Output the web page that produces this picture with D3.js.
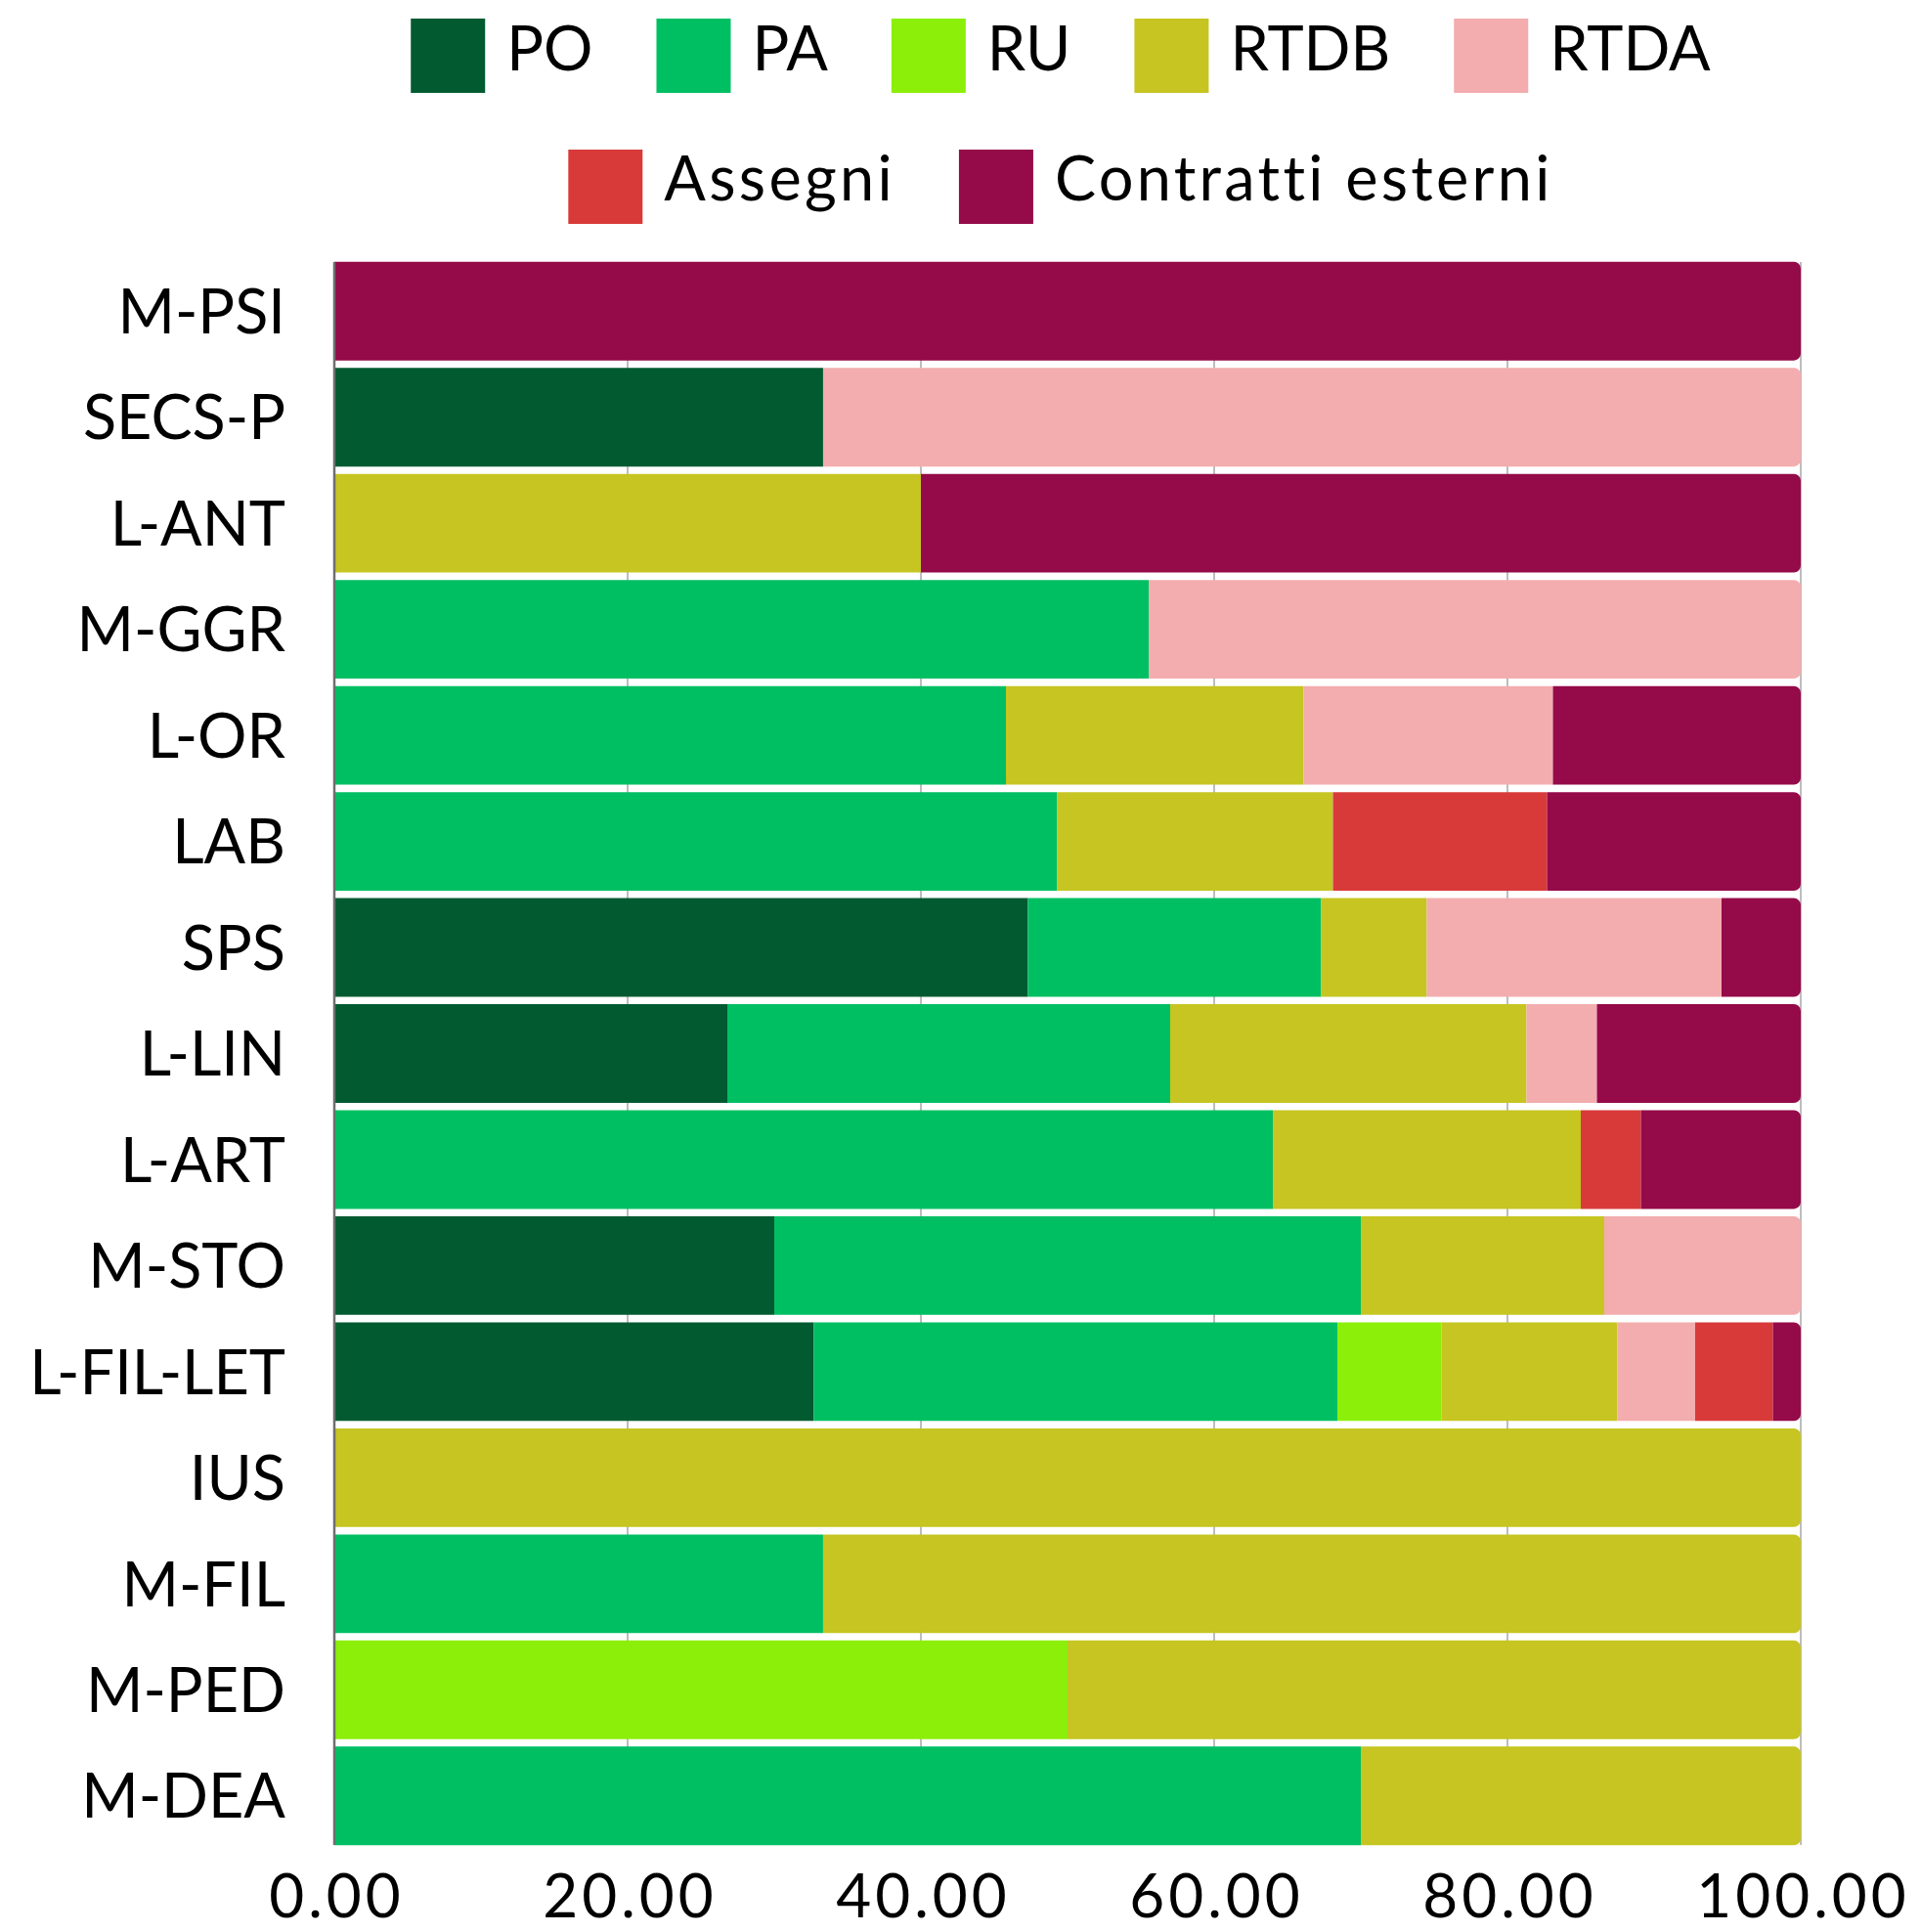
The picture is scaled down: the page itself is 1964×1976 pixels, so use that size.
<!DOCTYPE html>
<html>
<head>
<meta charset="utf-8">
<script src="https://cdn.jsdelivr.net/npm/d3@7"></script>
<style>
  html, body { margin: 0; padding: 0; background: #ffffff; }
  svg { display: block; }
  text { font-family: Lato, "Open Sans", sans-serif; fill: #000; }
</style>
</head>
<body>
<svg id="chart" width="1964" height="1976"></svg>
<script>
// ---- data ----
const categories = ["M-PSI","SECS-P","L-ANT","M-GGR","L-OR","LAB","SPS","L-LIN","L-ART","M-STO","L-FIL-LET","IUS","M-FIL","M-PED","M-DEA"];
const seriesNames = ["PO","PA","RU","RTDB","RTDA","Assegni","Contratti esterni"];
const PO        = [0, 33.33, 0, 0, 0, 0, 47.3, 26.8, 0, 30.0, 32.7, 0, 0, 0, 0];
const PA        = [0, 0, 0, 55.56, 45.8, 49.3, 20.0, 30.2, 64.0, 40.0, 35.7, 0, 33.33, 0, 70.0];
const RU        = [0, 0, 0, 0, 0, 0, 0, 0, 0, 0, 7.1, 0, 0, 50.0, 0];
const RTDB      = [0, 0, 40.0, 0, 20.3, 18.8, 7.2, 24.3, 21.0, 16.6, 12.0, 100, 66.67, 50.0, 30.0];
const RTDA      = [0, 66.67, 0, 44.44, 17.0, 0, 20.1, 4.8, 0, 13.4, 5.3, 0, 0, 0, 0];
const Assegni   = [0, 0, 0, 0, 0, 14.6, 0, 0, 4.1, 0, 5.3, 0, 0, 0, 0];
const Contratti = [100, 0, 60.0, 0, 16.9, 17.3, 5.4, 13.9, 10.9, 0, 1.9, 0, 0, 0, 0];
const xTicks = [0, 20, 40, 60, 80, 100];
const colors = ["#025a31","#00bf63","#8cef09","#c6c522","#f3adae","#d83a3a","#950a48"];

const seriesValues = [PO, PA, RU, RTDB, RTDA, Assegni, Contratti];
const table = categories.map((c, i) => {
  const row = { cat: c };
  seriesNames.forEach((s, j) => row[s] = seriesValues[j][i]);
  return row;
});

// ---- layout ----
const svg = d3.select("#chart");
const FS = 63;
const left = 342, right = 1842;
const x = d3.scaleLinear().domain([0, 100]).range([left, right]);
const y = d3.scaleBand().domain(categories).range([264, 1891]).paddingInner(0.07).paddingOuter(0.035);
const color = d3.scaleOrdinal().domain(seriesNames).range(colors);

// gridlines
svg.append("g").selectAll("line").data(xTicks.slice(1)).join("line")
  .attr("x1", d => x(d)).attr("x2", d => x(d))
  .attr("y1", y.range()[0] + 4).attr("y2", y.range()[1] - 4)
  .attr("stroke", "#bdbdbd").attr("stroke-width", 2);

// stacked bars
const stack = d3.stack().keys(seriesNames)(table);
const lastKey = {};
table.forEach(r => {
  let k = null;
  seriesNames.forEach(s => { if (r[s] > 0) k = s; });
  lastKey[r.cat] = k;
});
const R = 7;
function segPath(x0, x1, y0, h, rounded) {
  if (!rounded) return `M${x0},${y0}H${x1}V${y0 + h}H${x0}Z`;
  const r = Math.min(R, (x1 - x0));
  return `M${x0},${y0}H${x1 - r}A${r},${r} 0 0 1 ${x1},${y0 + r}V${y0 + h - r}A${r},${r} 0 0 1 ${x1 - r},${y0 + h}H${x0}Z`;
}
const gBars = svg.append("g");
stack.forEach(layer => {
  const key = layer.key;
  gBars.append("g").selectAll("path")
    .data(layer.filter(d => d[1] - d[0] > 0))
    .join("path")
    .attr("fill", color(key))
    .attr("d", d => segPath(x(d[0]), x(d[1]), y(d.data.cat), y.bandwidth(), lastKey[d.data.cat] === key));
});

// left axis line
svg.append("line")
  .attr("x1", left).attr("x2", left)
  .attr("y1", y.range()[0] + 4).attr("y2", y.range()[1] - 4)
  .attr("stroke", "#6e6e6e").attr("stroke-width", 2.5);

// y axis labels
const yAxis = d3.axisLeft(y).tickSize(0).tickPadding(50);
const gy = svg.append("g").attr("transform", `translate(${left},0)`).call(yAxis);
gy.select(".domain").remove();
gy.selectAll("text").attr("font-size", FS).attr("font-family", "Lato, sans-serif").attr("fill", "#000").attr("dy", "0.36em");

// x axis labels
const xAxis = d3.axisBottom(x).tickValues(xTicks).tickSize(0).tickFormat(d3.format(".2f")).tickPadding(0);
const gx = svg.append("g").attr("transform", `translate(0,1961)`).call(xAxis);
gx.select(".domain").remove();
gx.selectAll("text").attr("font-size", 62).attr("font-family", "Lato, sans-serif").attr("fill", "#000")
  .attr("dy", 0).attr("letter-spacing", 4).attr("dx", 2);

// legend
const legendRows = [["PO","PA","RU","RTDB","RTDA"], ["Assegni","Contratti esterni"]];
const rowSw = [19, 153];
const rowBase = [72, 205];
const rowSpacing = [0, 3.3];
const SW = 76, GAP_T = 22, GAP_I = 65, CX = 1085;
const gLeg = svg.append("g");
legendRows.forEach((row, ri) => {
  const items = row.map(name => {
    const g = gLeg.append("g");
    g.append("rect").attr("width", SW).attr("height", SW).attr("y", rowSw[ri]).attr("fill", color(name));
    const t = g.append("text").attr("x", SW + GAP_T).attr("y", rowBase[ri]).attr("font-size", FS)
      .attr("letter-spacing", rowSpacing[ri]).text(name);
    const w = SW + GAP_T + t.node().getComputedTextLength();
    return { g, w };
  });
  const total = d3.sum(items, d => d.w) + GAP_I * (items.length - 1);
  let cx = CX - total / 2;
  items.forEach(it => { it.g.attr("transform", `translate(${cx},0)`); cx += it.w + GAP_I; });
});
</script>
</body>
</html>
